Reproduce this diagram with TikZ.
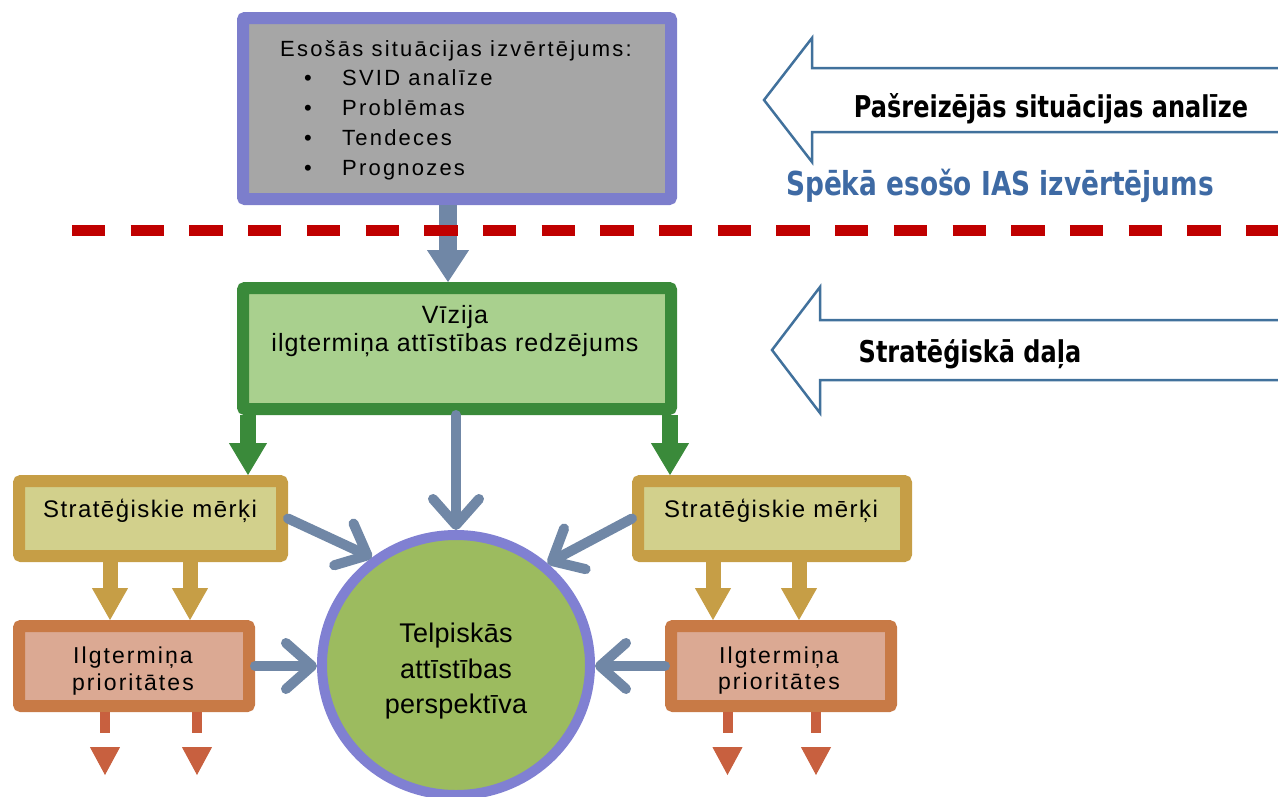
\documentclass[tikz,border=0pt]{standalone}
\usepackage{fontspec}
\setmainfont{Liberation Sans}
\newfontfamily\lblfont[FakeStretch=0.8]{DejaVu Sans}
\usetikzlibrary{arrows.meta,shapes.geometric,calc}
\definecolor{cPurple}{RGB}{124,126,204}
\definecolor{cGrayFill}{RGB}{166,166,166}
\definecolor{cArrow}{RGB}{112,135,166}
\definecolor{cRed}{RGB}{192,0,0}
\definecolor{cGreenB}{RGB}{58,138,58}
\definecolor{cGreenF}{RGB}{169,208,142}
\definecolor{cGoldB}{RGB}{198,158,70}
\definecolor{cGoldF}{RGB}{210,208,140}
\definecolor{cOrB}{RGB}{200,122,70}
\definecolor{cOrF}{RGB}{219,169,147}
\definecolor{cOrArrow}{RGB}{200,96,63}
\definecolor{cCircF}{RGB}{156,187,95}
\definecolor{cCircB}{RGB}{128,128,210}
\definecolor{cBlockB}{RGB}{65,113,156}
\definecolor{cBlueTxt}{RGB}{62,106,164}
\newcommand\fTop{\fontsize{22}{27}\selectfont\addfontfeature{LetterSpace=10}}
\newcommand\fViz{\fontsize{25}{30}\selectfont\addfontfeature{LetterSpace=4}}
\newcommand\fStrat{\fontsize{24}{29}\selectfont\addfontfeature{LetterSpace=6}}
\newcommand\fIlg{\fontsize{23}{28}\selectfont\addfontfeature{LetterSpace=9}}
\newcommand\fCirc{\fontsize{27}{32}\selectfont\addfontfeature{LetterSpace=1}}
\newcommand\fLbl{\lblfont\bfseries\fontsize{30}{36}\selectfont}
\newcommand\fLblB{\lblfont\bfseries\fontsize{33}{38}\selectfont}
\begin{document}
\begin{tikzpicture}[x=1pt,y=-1pt,
  box/.style={draw, line width=12pt, rounded corners=2pt, inner sep=0pt},
  txt/.style={anchor=base, inner sep=0pt, text=black},
  gblk/.style={draw=cArrow, line width=18pt, -{Triangle[length=32pt,width=42pt,line width=1pt]}},
  grn/.style={draw=cGreenB, line width=16pt, -{Triangle[length=32pt,width=38pt,line width=1pt]}},
  gold/.style={draw=cGoldB, line width=15pt, -{Triangle[length=32pt,width=36pt,line width=1pt]}},
  orr/.style={draw=cOrArrow, line width=10pt, dash pattern=on 21pt off 14pt, -{Triangle[length=28pt,width=30pt,line width=1pt]}},
  gbarb/.style={draw=cArrow, line width=10pt, line cap=round, -{Straight Barb[length=26pt,width=46pt,round]}},
  blockarr/.style={draw=cBlockB, line width=2.5pt, fill=white, line join=miter}
]
\useasboundingbox (0,0) rectangle (1278,796);

% boxes
\node[box, draw=cPurple, fill=cGrayFill, minimum width=428pt, minimum height=181pt] (sit) at (457,108.5) {};
\node[box, draw=cGreenB, fill=cGreenF, minimum width=428pt, minimum height=121pt] (viz) at (457,348.5) {};
\node[box, draw=cGoldB, fill=cGoldF, minimum width=263pt, minimum height=75pt] (stratL) at (150.5,518.5) {};
\node[box, draw=cGoldB, fill=cGoldF, minimum width=268pt, minimum height=75pt] (stratR) at (772,518.5) {};
\node[box, draw=cOrB, fill=cOrF, minimum width=230pt, minimum height=80pt] (ilgL) at (134,666) {};
\node[box, draw=cOrB, fill=cOrF, minimum width=220pt, minimum height=80pt] (ilgR) at (781,666) {};
\node[ellipse, draw=cCircB, fill=cCircF, line width=10pt, minimum width=268pt, minimum height=260pt, inner sep=0pt] (circ) at (456,665) {};

% texts in boxes
\node[txt, font=\fTop] (sitH) at (456,56) {Esošās situācijas izvērtējums:};
\node[txt, font=\fTop] (b1) at (308,85) {•};
\node[txt, font=\fTop] (b2) at (308,115) {•};
\node[txt, font=\fTop] (b3) at (308,145) {•};
\node[txt, font=\fTop] (b4) at (308,175) {•};
\node[txt, font=\fTop, anchor=base west] (i1) at (342,85) {SVID analīze};
\node[txt, font=\fTop, anchor=base west] (i2) at (342,115) {Problēmas};
\node[txt, font=\fTop, anchor=base west] (i3) at (342,145) {Tendeces};
\node[txt, font=\fTop, anchor=base west] (i4) at (342,175) {Prognozes};

\node[txt, font=\fViz] (vizA) at (455,323) {Vīzija};
\node[txt, font=\fViz] (vizB) at (455,351) {ilgtermiņa attīstības redzējums};

\node[txt, font=\fStrat] (stratLt) at (150,517) {Stratēģiskie mērķi};
\node[txt, font=\fStrat] (stratRt) at (771,517) {Stratēģiskie mērķi};

\node[txt, font=\fIlg] (ilgLa) at (133,663) {Ilgtermiņa};
\node[txt, font=\fIlg] (ilgLb) at (133,690) {prioritātes};
\node[txt, font=\fIlg] (ilgRa) at (779,663) {Ilgtermiņa};
\node[txt, font=\fIlg] (ilgRb) at (779,689) {prioritātes};

\node[txt, font=\fCirc] (circA) at (456,642) {Telpiskās};
\node[txt, font=\fCirc] (circB) at (456,678) {attīstības};
\node[txt, font=\fCirc] (circC) at (456,713) {perspektīva};

% block arrows on the right
\draw[blockarr] (1282,68) -- (812,68) -- (812,38) -- (764,100) -- (812,162) -- (812,132) -- (1282,132);
\draw[blockarr] (1282,320) -- (820,320) -- (820,287) -- (772,350) -- (820,413) -- (820,380) -- (1282,380);
\node[txt, font=\fLbl] (lblA) at (1051,117) {Pašreizējās situācijas analīze};
\node[txt, font=\fLblB, text=cBlueTxt] (lblB) at (1000,195) {Spēkā esošo IAS izvērtējums};
\node[txt, font=\fLbl] (lblC) at (970,362) {Stratēģiskā daļa};

% arrows
\draw[gblk] ([xshift=-9pt]sit.south) -- ([xshift=-9pt]viz.north);
\coordinate (dashL) at (72,230.5);
\coordinate (dashR) at (1290,230.5);
\draw[cRed, line width=11pt, dash pattern=on 33.3pt off 25.4pt] (dashL) -- (dashR);

\draw[grn] ([xshift=11pt]viz.south west) -- ([xshift=11pt]viz.south west |- stratL.north);
\draw[grn] ([xshift=-7pt]viz.south east) -- ([xshift=-7pt]viz.south east |- stratR.north);

\draw[gold] ([xshift=97pt]stratL.south west) -- ([xshift=97pt]stratL.south west |- ilgL.north);
\draw[gold] ([xshift=177pt]stratL.south west) -- ([xshift=177pt]stratL.south west |- ilgL.north);
\draw[gold] ([xshift=81pt]stratR.south west) -- ([xshift=81pt]stratR.south west |- ilgR.north);
\draw[gold] ([xshift=167pt]stratR.south west) -- ([xshift=167pt]stratR.south west |- ilgR.north);

\coordinate (o1) at (105,775);
\coordinate (o2) at (197,775);
\coordinate (o3) at (727.5,775);
\coordinate (o4) at (816,775);
\draw[orr] (o1 |- ilgL.south) -- (o1);
\draw[orr] (o2 |- ilgL.south) -- (o2);
\draw[orr] (o3 |- ilgR.south) -- (o3);
\draw[orr] (o4 |- ilgR.south) -- (o4);

\draw[gbarb] (viz.south -| circ.north) -- (circ.north);
\draw[gbarb] (stratL.east) -- (circ.128);
\draw[gbarb] (stratR.west) -- (circ.48);
\draw[gbarb] (ilgL.east) -- (ilgL.east -| circ.west);
\draw[gbarb] (ilgR.west) -- (ilgR.west -| circ.east);
\end{tikzpicture}
\end{document}
